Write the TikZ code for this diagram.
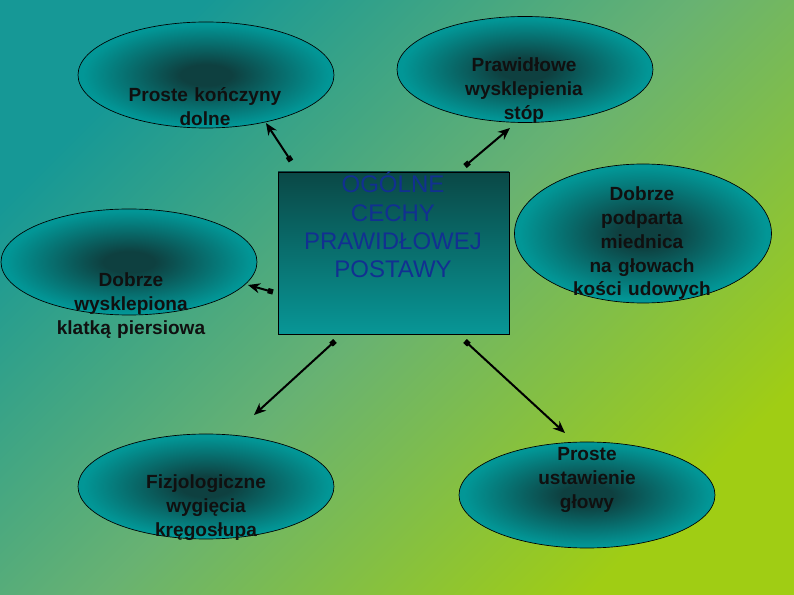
\documentclass[tikz,border=0pt]{standalone}
\usepackage{fontspec}
\setmainfont{Liberation Sans}
\usetikzlibrary{arrows.meta,shapes.geometric}
\definecolor{bgA}{RGB}{22,152,150}
\definecolor{bgB}{RGB}{104,178,114}
\definecolor{bgC}{RGB}{160,205,20}
\definecolor{elldark}{RGB}{14,64,64}
\definecolor{ellteal}{RGB}{2,150,150}
\definecolor{recttop}{RGB}{10,72,70}
\definecolor{rectbot}{RGB}{8,150,150}
\definecolor{titleblue}{RGB}{18,48,145}
\definecolor{labelink}{RGB}{16,16,16}
\pgfdeclareradialshading{ellshade}{\pgfpoint{0bp}{0bp}}{color(0bp)=(elldark); color(5bp)=(elldark); color(24bp)=(ellteal); color(50bp)=(ellteal)}
\begin{document}
\begin{tikzpicture}[x=0.75pt,y=-0.75pt,
  ell/.style={ellipse,draw=black,line width=0.5pt,shading=ellshade,
    minimum width=192pt,minimum height=79.5pt,inner sep=0pt,outer sep=0pt},
  lbl/.style={font=\bfseries\fontsize{14.3pt}{17.8pt}\selectfont,text=labelink,
    align=center,text width=150pt,anchor=base,inner sep=0pt},
  conn/.style={line width=1.5pt,black,{Square[length=4pt,width=4pt]}-{Stealth[length=9pt,width=7.5pt]}}]
\useasboundingbox (0,0) rectangle (794,595);
\shade[top color=bgA,bottom color=bgC,middle color=bgB,shading angle=45] (0,0) rectangle (794,595);

% ellipses
\node[ell] (e1) at (206,75) {};
\node[ell] (e2) at (525,69.5) {};
\node[ell] (e3) at (129,262) {};
\node[ell,minimum width=192.75pt,minimum height=104.25pt] (e4) at (643,233.5) {};
\node[ell,minimum height=78.75pt] (e5) at (206,486.5) {};
\node[ell] (e6) at (587,495) {};

% central box
\node[draw=black,line width=0.5pt,top color=recttop,bottom color=rectbot,
  minimum width=173.25pt,minimum height=121.5pt,inner sep=0pt,outer sep=0pt] (core) at (393.5,253) {};
\node[font=\fontsize{18pt}{21.2pt}\selectfont,text=titleblue,align=center,
  text width=170pt,anchor=base,inner sep=0pt] (title) at (393,193)
  {OGÓLNE\\CECHY\\PRAWIDŁOWEJ\\POSTAWY};

% labels
\node[lbl] (t1) at (205,102) {Proste kończyny\\dolne};
\node[lbl] (t2) at (524,72) {Prawidłowe\\wysklepienia\\stóp};
\node[lbl] (t3) at (131,287) {Dobrze\\wysklepiona\\klatką piersiowa};
\node[lbl] (t4) at (642,201) {Dobrze\\podparta\\miednica\\na głowach\\kości udowych};
\node[lbl] (t5) at (206,489) {Fizjologiczne\\wygięcia\\kręgosłupa};
\node[lbl] (t6) at (587,461) {Proste\\ustawienie\\głowy};

% connector ends
\coordinate (a1s) at (291,161); \coordinate (a1e) at (266,123);
\coordinate (a2s) at (465,166); \coordinate (a2e) at (510,128);
\coordinate (a3s) at (273,292); \coordinate (a3e) at (248,285);
\coordinate (a4s) at (335,341); \coordinate (a4e) at (254,415);
\coordinate (a5s) at (465,341); \coordinate (a5e) at (565,433);
\draw[conn] (a1s) -- (a1e);
\draw[conn] (a2s) -- (a2e);
\draw[conn] (a3s) -- (a3e);
\draw[conn] (a4s) -- (a4e);
\draw[conn] (a5s) -- (a5e);
\end{tikzpicture}
\end{document}
